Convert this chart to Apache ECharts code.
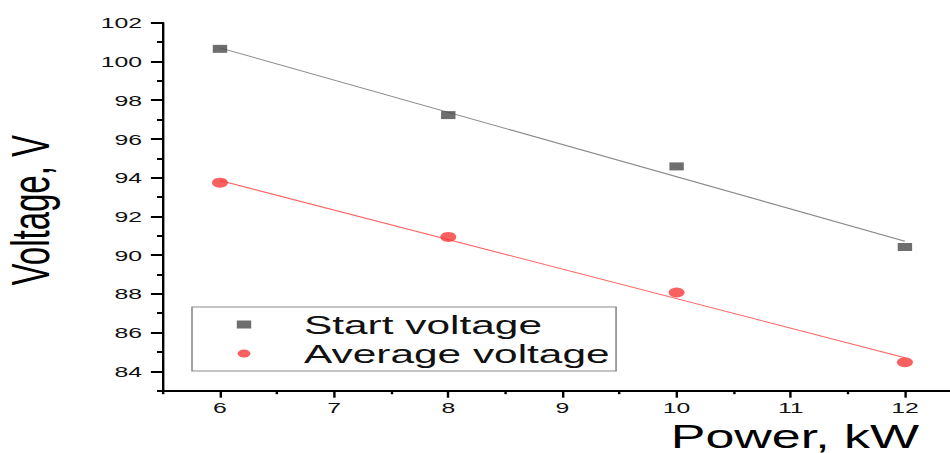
<!DOCTYPE html>
<html>
<head>
<meta charset="utf-8">
<script src="https://cdn.jsdelivr.net/npm/echarts@6/dist/echarts.min.js"></script>
<style>
  html, body { margin: 0; padding: 0; width: 950px; height: 453px; overflow: hidden; background: #fff; }
  #chart { position: absolute; left: 0; top: 0; width: 625px; height: 453px; transform: scaleX(1.6); transform-origin: 0 0; }
</style>
</head>
<body>
<div id="chart"></div>
<script>
// ---- data ----
const powerKW = [6, 8, 10, 12];
const startVoltage = [100.65, 97.23, 94.58, 90.42];
const averageVoltage = [93.74, 90.94, 88.07, 84.47];
// linear-fit lines (end points)
const fitPowerKW = [6, 12];
const startFit = [100.7, 90.72];
const averageFit = [93.85, 84.7];
// ticks
const yTickLabels = [84, 86, 88, 90, 92, 94, 96, 98, 100, 102];
const yMinorTicks = [83, 85, 87, 89, 91, 93, 95, 97, 99, 101];
const xTickLabels = [6, 7, 8, 9, 10, 11, 12];
const xMinorTicks = [5.5, 6.5, 7.5, 8.5, 9.5, 10.5, 11.5, 12.5];
const seriesNames = ['Start voltage', 'Average voltage'];
const axisTitles = { x: 'Power, kW', y: 'Voltage, V' };

const FONT = 'Liberation Sans, Arial, sans-serif';
const pairs = (xs, ys) => xs.map((x, i) => [x, ys[i]]);

const chart = echarts.init(document.getElementById('chart'), null, { renderer: 'svg' });
const gridBox = { left: 101.8, right: 23.75, top: 22.7, bottom: 62.3, containLabel: false, outerBoundsMode: 'none' };

chart.setOption({
  animation: false,
  backgroundColor: '#fff',
  grid: [Object.assign({}, gridBox), Object.assign({}, gridBox)],
  graphic: [{
    type: 'text', x: 574.5, y: 420, silent: true,
    style: { text: axisTitles.x, fontFamily: FONT, fontSize: 32.5, fill: '#000', align: 'right', verticalAlign: 'top' }
  }],
  xAxis: [{
    type: 'value', gridIndex: 0, min: 5.5, max: 12.5,
    axisLine: { show: true, onZero: false, lineStyle: { color: '#000', width: 2 } },
    axisTick: { show: true, customValues: xTickLabels, length: 7, lineStyle: { color: '#000', width: 1.5 } },
    axisLabel: { customValues: xTickLabels, margin: 9, fontFamily: FONT, fontSize: 15.5, color: '#111' },
    splitLine: { show: false }
  }, {
    type: 'value', gridIndex: 1, min: 5.5, max: 12.5,
    axisLine: { show: false },
    axisTick: { show: true, customValues: xMinorTicks, length: 3.5, lineStyle: { color: '#000', width: 1.5 } },
    axisLabel: { show: false },
    splitLine: { show: false }
  }],
  yAxis: [{
    type: 'value', gridIndex: 0, min: 83, max: 102,
    name: axisTitles.y, nameLocation: 'middle', nameGap: 66.5,
    nameTextStyle: { fontFamily: FONT, fontSize: 33, lineHeight: 33, color: '#000', padding: [0, 7, 0, 0] },
    axisLine: { show: true, onZero: false, lineStyle: { color: '#000', width: 1.5 } },
    axisTick: { show: true, customValues: yTickLabels, length: 7.5, lineStyle: { color: '#000', width: 2 } },
    axisLabel: { customValues: yTickLabels, margin: 13, fontFamily: FONT, fontSize: 15.5, color: '#111' },
    splitLine: { show: false }
  }, {
    type: 'value', gridIndex: 1, min: 83, max: 102,
    axisLine: { show: false },
    axisTick: { show: true, customValues: yMinorTicks, length: 3.7, lineStyle: { color: '#000', width: 2 } },
    axisLabel: { show: false },
    splitLine: { show: false }
  }],
  legend: {
    orient: 'vertical', left: 120, top: 307,
    itemWidth: 65, itemHeight: 8, itemGap: 1,
    padding: [3.5, 4, 3.5, 0],
    borderColor: '#8a8a8a', borderWidth: 1, backgroundColor: '#fff',
    selectedMode: false,
    textStyle: { fontFamily: FONT, fontSize: 26.5, lineHeight: 28, color: '#111' },
    data: [
      { name: seriesNames[0], icon: 'path://M0,4L0,4M28,0h9v8h-9zM65,4L65,4' },
      { name: seriesNames[1], icon: 'path://M0,4L0,4M28.5,4a4,4 0 1,0 8,0a4,4 0 1,0 -8,0zM65,4L65,4' }
    ]
  },
  series: [{
    name: 'Start fit', type: 'line', xAxisIndex: 0, yAxisIndex: 0,
    data: pairs(fitPowerKW, startFit), symbol: 'none', silent: true, z: 1,
    lineStyle: { color: '#8a8a8a', width: 1 }
  }, {
    name: 'Average fit', type: 'line', xAxisIndex: 0, yAxisIndex: 0,
    data: pairs(fitPowerKW, averageFit), symbol: 'none', silent: true, z: 1,
    lineStyle: { color: '#ff6464', width: 1 }
  }, {
    name: seriesNames[0], type: 'scatter', xAxisIndex: 0, yAxisIndex: 0,
    data: pairs(powerKW, startVoltage), symbol: 'rect', symbolSize: [9, 8], z: 3,
    itemStyle: { color: '#4a4a4a' }
  }, {
    name: seriesNames[1], type: 'scatter', xAxisIndex: 0, yAxisIndex: 0,
    data: pairs(powerKW, averageVoltage), symbol: 'circle', symbolSize: 10, z: 3,
    itemStyle: { color: '#f83a3a' }
  }]
});
</script>
</body>
</html>
